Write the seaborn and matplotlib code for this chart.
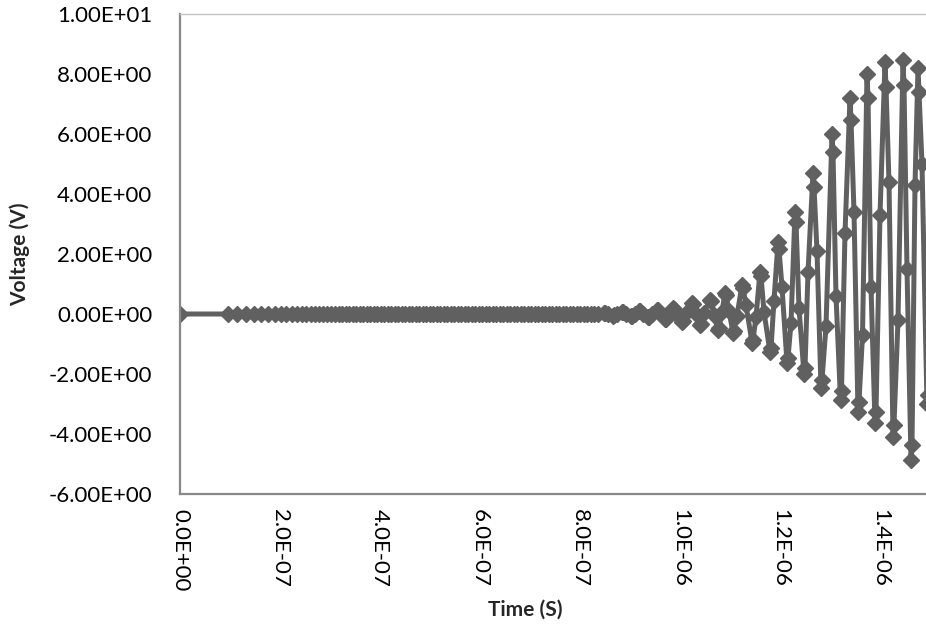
import numpy as np
import pandas as pd
import matplotlib
matplotlib.use("Agg")
import matplotlib.pyplot as plt
import seaborn as sns

# ---------------- data (time in ns, voltage in V) ----------------
t_quiet_ns = [0, 96, 114, 131, 147, 162, 176, 189, 201, 212, 223, 233,
              243, 252, 261, 270, 278, 286, 294, 302, 310, 317, 324, 331,
              338, 345, 352, 359, 366, 373, 380, 387, 394, 401, 408, 415,
              422, 429, 436, 443, 450, 457, 464, 471, 478, 485, 492, 499,
              506, 513, 520, 527, 534, 541, 548, 555, 562, 569, 576, 583,
              590, 597, 604, 611, 618, 625, 632, 639, 646, 653, 660, 667,
              674, 681, 688, 695, 702, 709, 716, 723, 730, 737, 744, 751,
              758, 765, 772, 779, 786, 793, 800, 807, 814, 821, 828, 835]
v_quiet = [0.0, 0.0, 0.0, 0.0, 0.0, 0.0, 0.0, 0.0, 0.0, 0.0, 0.0, 0.0,
           0.0, 0.0, 0.0, 0.0, 0.0, 0.0, 0.0, 0.0, 0.0, 0.0, 0.0, 0.0,
           0.0, 0.0, 0.0, 0.0, 0.0, 0.0, 0.0, 0.0, 0.0, 0.0, 0.0, 0.0,
           0.0, 0.0, 0.0, 0.0, 0.0, 0.0, 0.0, 0.0, 0.0, 0.0, 0.0, 0.0,
           0.0, 0.0, 0.0, 0.0, 0.0, 0.0, 0.0, 0.0, 0.0, 0.0, 0.0, 0.0,
           0.0, 0.0, 0.0, 0.0, 0.0, 0.0, 0.0, 0.0, 0.0, 0.0, 0.0, 0.0,
           0.0, 0.0, 0.0, 0.0, 0.0, 0.0, 0.0, 0.0, 0.0, 0.0, 0.0, 0.0,
           0.0, 0.0, 0.0, 0.0, 0.0, 0.0, 0.0, 0.0, 0.0, 0.0, 0.0, 0.0]

t_osc_ns = [848, 850, 856, 866, 868, 874,
            883, 885, 891, 901, 903, 909,
            918, 920, 926, 936, 938, 944,
            953, 955, 961, 970, 972, 978,
            986, 988, 994, 1004, 1006, 1012,
            1024, 1026, 1032, 1040, 1042, 1048,
            1060, 1062, 1068, 1076, 1078, 1084,
            1090, 1092, 1098, 1106, 1108, 1114,
            1124, 1126, 1132, 1144, 1146, 1152,
            1160, 1162, 1168, 1180, 1182, 1188,
            1196, 1198, 1204, 1214, 1216, 1222,
            1230, 1232, 1238, 1248, 1250, 1256,
            1266, 1268, 1274, 1282, 1284, 1292,
            1304, 1306, 1312, 1321, 1323, 1330,
            1340, 1342, 1348, 1356, 1358, 1365,
            1374, 1376, 1382, 1390, 1392, 1400,
            1410, 1412, 1418, 1426, 1428, 1436,
            1446, 1448, 1454, 1462, 1464, 1470,
            1476, 1478, 1484, 1494, 1496, 1502]
v_osc = [0.05, 0.045, 0.0, -0.05, -0.045, 0.0,
         0.07, 0.063, 0.0, -0.08, -0.072, 0.0,
         0.10, 0.09, 0.0, -0.11, -0.10, 0.0,
         0.14, 0.126, -0.01, -0.17, -0.15, 0.02,
         0.20, 0.18, -0.03, -0.27, -0.24, 0.05,
         0.37, 0.33, 0.0, -0.37, -0.33, 0.05,
         0.47, 0.42, -0.03, -0.53, -0.48, 0.08,
         0.70, 0.63, 0.10, -0.62, -0.56, -0.05,
         0.97, 0.87, 0.30, -0.95, -0.86, -0.10,
         1.40, 1.26, 0.07, -1.27, -1.14, 0.45,
         2.40, 2.16, 0.90, -1.63, -1.47, -0.30,
         3.40, 3.06, 0.20, -2.00, -1.80, 1.40,
         4.70, 4.23, 2.10, -2.45, -2.20, -0.40,
         6.00, 5.40, 0.60, -2.85, -2.57, 2.70,
         7.20, 6.48, 3.40, -3.25, -2.93, -0.70,
         8.00, 7.20, 0.90, -3.63, -3.27, 3.30,
         8.40, 7.56, 4.40, -4.10, -3.69, -0.20,
         8.47, 7.62, 1.50, -4.87, -4.38, 4.30,
         8.20, 7.40, 5.00, -3.00, -2.70, 1.50]

x_tick_values = [0.0, 2e-7, 4e-7, 6e-7, 8e-7, 1.0e-6, 1.2e-6, 1.4e-6]
x_tick_labels = ["0.0E+00", "2.0E-07", "4.0E-07", "6.0E-07", "8.0E-07",
                 "1.0E-06", "1.2E-06", "1.4E-06"]
y_tick_values = [10, 8, 6, 4, 2, 0, -2, -4, -6]
y_tick_labels = ["1.00E+01", "8.00E+00", "6.00E+00", "4.00E+00", "2.00E+00",
                 "0.00E+00", "-2.00E+00", "-4.00E+00", "-6.00E+00"]

# ---------------- plotting ----------------
sns.set_style("white")
plt.rcParams['font.family'] = ['Lato', 'DejaVu Sans']

df = pd.DataFrame({
    "Time (S)": np.array(t_quiet_ns + t_osc_ns, dtype=float) * 1e-9,
    "Voltage (V)": v_quiet + v_osc,
})

W, H = 926, 628
fig = plt.figure(figsize=(W / 100, H / 100), dpi=100)
ax = fig.add_axes([180 / W, 1 - 494 / H, 1 - 180 / W, (494 - 14) / H])

line_col = "#606060"
sns.lineplot(data=df, x="Time (S)", y="Voltage (V)", sort=False, estimator=None,
             ax=ax, color=line_col, linewidth=3.6, marker="D", markersize=8.5,
             markeredgecolor=line_col, markerfacecolor=line_col,
             markeredgewidth=1)

ax.set_xlim(0, 1.492e-6)
ax.set_ylim(-6, 10)
ax.set_xticks(x_tick_values)
ax.set_xticklabels(x_tick_labels, rotation=-90, fontsize=16)
ax.set_yticks(y_tick_values)
ax.set_yticklabels(y_tick_labels, fontsize=16)

for s in ["left", "bottom"]:
    ax.spines[s].set_color("#888888")
    ax.spines[s].set_linewidth(1.6)
ax.spines["top"].set_color("#c4c4c4")
ax.spines["top"].set_linewidth(1.0)
ax.spines["right"].set_visible(False)

ax.tick_params(axis="both", direction="out", length=7, width=1.5,
               color="#888888", labelcolor="#000000")
ax.tick_params(axis="y", pad=13)
ax.tick_params(axis="x", pad=4)
for c in ax.get_lines():
    c.set_clip_on(True)

ax.set_xlabel("Time (S)", fontsize=15, fontweight="bold")
ax.set_ylabel("Voltage (V)", fontsize=15, fontweight="bold")
ax.xaxis.set_label_coords((525 - 180) / (W - 180), -(610 - 494) / (494 - 14))
ax.yaxis.set_label_coords(-(180 - 20) / (W - 180), 0.5)
ax.xaxis.label.set_va("center")
ax.yaxis.label.set_va("center")

fig.savefig("out.png", dpi=100)
